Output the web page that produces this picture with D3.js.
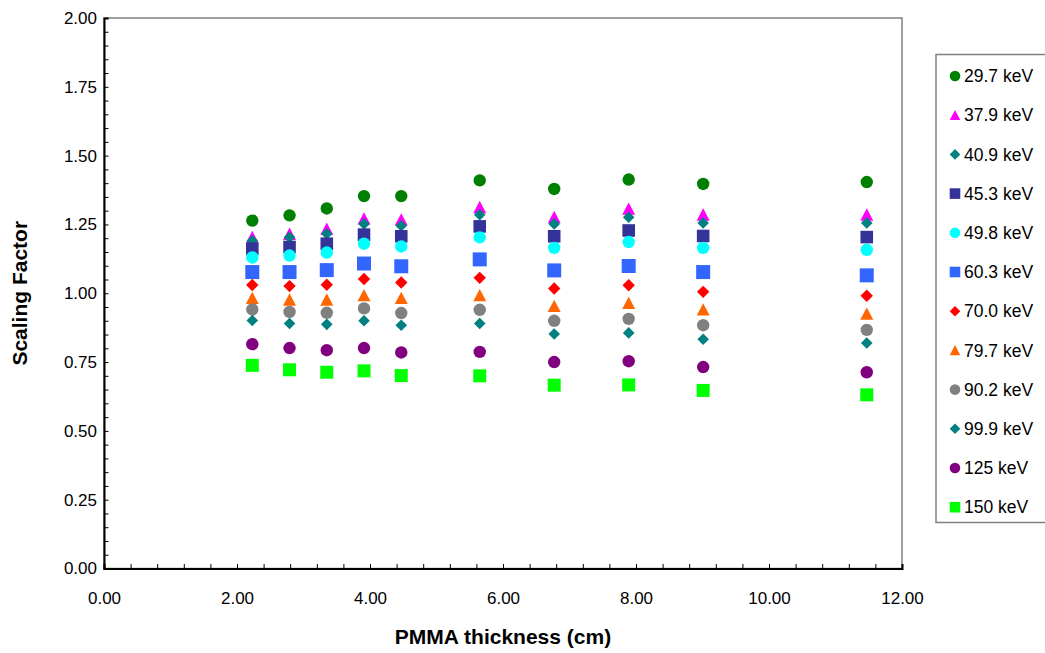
<!DOCTYPE html>
<html>
<head>
<meta charset="utf-8">
<script src="https://cdn.jsdelivr.net/npm/d3@7"></script>
<style>
  html, body { margin: 0; padding: 0; background: #fff; }
  svg { display: block; font-family: "Liberation Sans", Arial, sans-serif; }
</style>
</head>
<body>
<svg id="chart" width="1045" height="653"></svg>
<script>
// ---- data ----
const thickness = [2.23, 2.79, 3.35, 3.91, 4.47, 5.65, 6.77, 7.89, 9.01, 11.47];
const energyLabels = ["29.7 keV", "37.9 keV", "40.9 keV", "45.3 keV", "49.8 keV", "60.3 keV",
                      "70.0 keV", "79.7 keV", "90.2 keV", "99.9 keV", "125 keV", "150 keV"];
const s29_7 = [1.264, 1.283, 1.308, 1.353, 1.353, 1.410, 1.379, 1.413, 1.397, 1.404];
const s37_9 = [1.203, 1.215, 1.233, 1.271, 1.267, 1.312, 1.276, 1.306, 1.285, 1.285];
const s40_9 = [1.191, 1.203, 1.216, 1.252, 1.245, 1.285, 1.252, 1.276, 1.255, 1.255];
const s45_3 = [1.162, 1.168, 1.180, 1.213, 1.207, 1.243, 1.207, 1.228, 1.208, 1.204];
const s49_8 = [1.130, 1.137, 1.148, 1.180, 1.170, 1.203, 1.165, 1.186, 1.165, 1.158];
const s60_3 = [1.077, 1.077, 1.084, 1.108, 1.098, 1.123, 1.083, 1.099, 1.077, 1.065];
const s70_0 = [1.030, 1.026, 1.031, 1.052, 1.039, 1.056, 1.017, 1.029, 1.005, 0.991];
const s79_7 = [0.982, 0.976, 0.976, 0.992, 0.982, 0.992, 0.953, 0.964, 0.940, 0.925];
const s90_2 = [0.941, 0.932, 0.929, 0.945, 0.928, 0.940, 0.900, 0.907, 0.884, 0.867];
const s99_9 = [0.901, 0.890, 0.887, 0.900, 0.884, 0.890, 0.852, 0.856, 0.833, 0.819];
const s125  = [0.815, 0.801, 0.793, 0.801, 0.785, 0.787, 0.750, 0.753, 0.732, 0.713];
const s150  = [0.738, 0.722, 0.713, 0.718, 0.701, 0.700, 0.666, 0.667, 0.647, 0.631];
const seriesValues = [s29_7, s37_9, s40_9, s45_3, s49_8, s60_3, s70_0, s79_7, s90_2, s99_9, s125, s150];
const xMajorTicks = [0, 2, 4, 6, 8, 10, 12];
const yMajorTicks = [0, 0.25, 0.5, 0.75, 1.0, 1.25, 1.5, 1.75, 2.0];

// ---- styles ----
const colors = ["#008000", "#FF00FF", "#008080", "#333399", "#00FFFF", "#3366FF",
                "#FF0000", "#FF6600", "#808080", "#008080", "#800080", "#00FF00"];
const shapes = ["circle", "triangle", "diamond", "square", "circle", "square",
                "diamond", "triangle", "circle", "diamond", "circle", "square"];
const plotSizeBySeries = [6.2, 6.5, 5.8, 6.3, 6.2, 7, 6.2, 6.5, 6.2, 5.8, 6.2, 6.5];
const legendSize = 5.3;

const svg = d3.select("#chart");
const X0 = 104, X1 = 902, Y0 = 18, Y1 = 568.5;
const x = d3.scaleLinear().domain([0, 12]).range([X0, X1]);
const y = d3.scaleLinear().domain([0, 2]).range([Y1, Y0]);

function shapePath(shape, r) {
  const p = d3.path();
  if (shape === "circle") {
    p.moveTo(r, 0); p.arc(0, 0, r, 0, 2 * Math.PI);
  } else if (shape === "square") {
    p.rect(-r, -r, 2 * r, 2 * r);
  } else if (shape === "diamond") {
    p.moveTo(0, -r); p.lineTo(r, 0); p.lineTo(0, r); p.lineTo(-r, 0); p.closePath();
  } else if (shape === "triangle") {
    p.moveTo(0, -r); p.lineTo(r, r * 0.9); p.lineTo(-r, r * 0.9); p.closePath();
  }
  return p.toString();
}

// plot frame (top/right grey)
svg.append("rect").attr("x", X0).attr("y", Y0).attr("width", X1 - X0).attr("height", Y1 - Y0)
  .attr("fill", "none").attr("stroke", "#808080").attr("stroke-width", 1.5);

// y axis: minor + major ticks inward
const yMinor = d3.range(0, 2.0001, 0.05);
svg.append("g").attr("transform", `translate(${X0},0)`)
  .call(d3.axisLeft(y).tickValues(yMinor).tickSize(-4.5).tickFormat(""))
  .call(g => g.select(".domain").attr("stroke", "#000").attr("stroke-width", 2))
  .call(g => g.selectAll(".tick line").attr("stroke", "#000").attr("stroke-width", 1));
svg.append("g").attr("transform", `translate(${X0},0)`)
  .call(d3.axisLeft(y).tickValues(yMajorTicks).tickSize(0).tickPadding(7).tickFormat(d3.format(".2f")))
  .call(g => g.select(".domain").remove())
  .call(g => g.selectAll("text").attr("font-size", 17).attr("fill", "#000")
    .attr("font-family", "'Liberation Sans', Arial, sans-serif"));

// x axis
const xMinor = d3.range(0, 12.0001, 0.4);
svg.append("g").attr("transform", `translate(0,${Y1})`)
  .call(d3.axisBottom(x).tickValues(xMinor).tickSize(-4.5).tickFormat(""))
  .call(g => g.select(".domain").attr("stroke", "#000").attr("stroke-width", 2))
  .call(g => g.selectAll(".tick line").attr("stroke", "#000").attr("stroke-width", 1));
svg.append("g").attr("transform", `translate(0,${Y1})`)
  .call(d3.axisBottom(x).tickValues(xMajorTicks).tickSize(0).tickPadding(23).tickFormat(d3.format(".2f")))
  .call(g => g.select(".domain").remove())
  .call(g => g.selectAll("text").attr("font-size", 17).attr("fill", "#000")
    .attr("font-family", "'Liberation Sans', Arial, sans-serif"));

// axis titles
svg.append("text").attr("x", (X0 + X1) / 2).attr("y", 644).attr("text-anchor", "middle")
  .attr("font-size", 21).attr("font-weight", "bold").text("PMMA thickness (cm)");
svg.append("text").attr("transform", `translate(27,${(Y0 + Y1) / 2}) rotate(-90)`)
  .attr("text-anchor", "middle").attr("font-size", 21).attr("font-weight", "bold").text("Scaling Factor");

// markers
seriesValues.forEach((vals, si) => {
  svg.append("g").selectAll("path").data(vals.map((v, i) => ({ x: thickness[i], y: v })))
    .join("path")
    .attr("transform", d => `translate(${x(d.x)},${y(d.y)})`)
    .attr("d", shapePath(shapes[si], plotSizeBySeries[si]))
    .attr("fill", colors[si]);
});

// legend
const leg = svg.append("g");
leg.append("rect").attr("x", 936).attr("y", 54.5).attr("width", 120).attr("height", 468)
  .attr("fill", "#fff").attr("stroke", "#808080").attr("stroke-width", 1.5);
energyLabels.forEach((lab, i) => {
  const cy = 76 + i * 39.2;
  leg.append("path").attr("transform", `translate(955,${cy})`)
    .attr("d", shapePath(shapes[i], legendSize)).attr("fill", colors[i]);
  leg.append("text").attr("x", 964).attr("y", cy).attr("dy", "0.35em")
    .attr("font-size", 17.5).attr("fill", "#000").text(lab);
});
</script>
</body>
</html>
